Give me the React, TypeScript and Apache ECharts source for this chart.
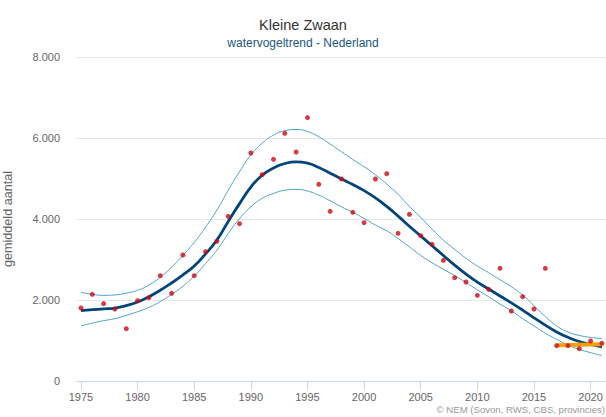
import React, { useEffect, useRef } from "react";
import * as echarts from "echarts";

const years: number[] = [
  1975, 1976, 1977, 1978, 1979, 1980, 1981, 1982, 1983, 1984, 1985, 1986, 1987, 1988, 1989,
  1990, 1991, 1992, 1993, 1994, 1995, 1996, 1997, 1998, 1999, 2000, 2001, 2002, 2003, 2004,
  2005, 2006, 2007, 2008, 2009, 2010, 2011, 2012, 2013, 2014, 2015, 2016, 2017, 2018, 2019,
  2020, 2021,
];

const counts: number[] = [
  1802, 2140, 1910, 1778, 1292, 1983, 2058, 2601, 2165, 3111, 2601, 3193, 3449, 4066, 3885,
  5630, 5095, 5473, 6115, 5654, 6505, 4856, 4189, 4988, 4165, 3909, 4988, 5119, 3646, 4115,
  3588, 3374, 2979, 2551, 2444, 2115, 2263, 2782, 1728, 2082, 1778, 2782, 872, 872, 798,
  988, 931,
];

const trend: number[] = [
  1740, 1760, 1780, 1800, 1860, 1950, 2080, 2240, 2420, 2620, 2840, 3140, 3480, 3940, 4380,
  4790, 5080, 5260, 5370, 5410, 5380, 5270, 5130, 4990, 4850, 4700, 4520, 4310, 4070, 3820,
  3580, 3340, 3100, 2860, 2640, 2440, 2270, 2100, 1930, 1750, 1560, 1380, 1210, 1080, 975,
  905, 840,
];

const upper: number[] = [
  2190, 2140, 2115, 2125, 2170, 2240, 2370, 2560, 2810, 3100, 3420, 3800, 4220, 4710, 5170,
  5580, 5870, 6070, 6180, 6210, 6160, 6030, 5850, 5660, 5470, 5290, 5090, 4860, 4610, 4310,
  4040, 3750, 3480, 3250, 3030, 2840, 2675, 2500, 2330, 2120, 1860, 1590, 1360, 1210, 1125,
  1075, 1050,
];

const lower: number[] = [
  1360, 1430, 1490, 1540, 1620, 1710, 1820, 1960, 2140, 2340, 2590, 2900, 3230, 3640, 4010,
  4300, 4510, 4630, 4710, 4730, 4690, 4590, 4450, 4300, 4165, 4015, 3850, 3710, 3520, 3310,
  3100, 2920, 2760, 2600, 2430, 2250, 2080, 1900, 1730, 1540, 1360, 1180, 1030, 890, 780,
  700, 625,
];

const shortTermYears: number[] = [2017, 2021];
const shortTermValues: number[] = [880, 905];

const xTicks: number[] = [1975, 1980, 1985, 1990, 1995, 2000, 2005, 2010, 2015, 2020];
const yTicks: number[] = [0, 2000, 4000, 6000, 8000];

const FONT = "'Liberation Sans', Arial, Helvetica, sans-serif";

const pairs = (xs: number[], ys: number[]) => xs.map((x, i) => [x, ys[i]]);

const fmtNum = (v: number) => {
  const s = String(Math.round(v));
  return s.replace(/\B(?=(\d{3})+(?!\d))/g, ".");
};

export default function App() {
  const ref = useRef<HTMLDivElement>(null);

  useEffect(() => {
    if (!ref.current) return;
    const chart = echarts.init(ref.current, undefined, { renderer: "svg" });
    chart.setOption({
      animation: false,
      backgroundColor: "#ffffff",
      textStyle: { fontFamily: FONT },
      title: [
        {
          text: "Kleine Zwaan",
          left: "center",
          top: 11,
          textStyle: { fontFamily: FONT, fontSize: 14.5, fontWeight: "normal", color: "#333333", lineHeight: 18 },
        },
        {
          text: "watervogeltrend - Nederland",
          left: "center",
          top: 30,
          textStyle: { fontFamily: FONT, fontSize: 12, fontWeight: "normal", color: "#22587a", lineHeight: 16 },
        },
      ],
      grid: {
        left: 76,
        right: 0,
        top: 57,
        bottom: 36,
        containLabel: false,
        outerBoundsMode: "none",
      },
      xAxis: {
        type: "value",
        min: 1974.56,
        max: 2021.36,
        splitLine: { show: false },
        axisLine: { show: true, lineStyle: { color: "#ccd6eb", width: 1 } },
        axisTick: { show: true, length: 9, lineStyle: { color: "#ccd6eb" }, customValues: xTicks },
        axisLabel: {
          color: "#666666",
          fontSize: 11,
          fontFamily: FONT,
          margin: 10,
          customValues: xTicks,
          formatter: (v: number) => String(v),
        },
      },
      yAxis: {
        type: "value",
        min: 0,
        max: 8000,
        interval: 2000,
        name: "gemiddeld aantal",
        nameLocation: "middle",
        nameGap: 62,
        nameRotate: 90,
        nameTextStyle: { color: "#666666", fontSize: 12.6, fontFamily: FONT },
        axisLine: { show: false },
        axisTick: { show: false },
        splitLine: { show: true, lineStyle: { color: "#e6e6e6", width: 1 } },
        axisLabel: {
          color: "#666666",
          fontSize: 11,
          fontFamily: FONT,
          margin: 16,
          customValues: yTicks,
          formatter: (v: number) => fmtNum(v),
        },
      },
      series: [
        {
          type: "line",
          name: "bovengrens",
          data: pairs(years, upper),
          smooth: true,
          showSymbol: false,
          lineStyle: { color: "#4ba3c9", width: 1 },
          z: 2,
        },
        {
          type: "line",
          name: "ondergrens",
          data: pairs(years, lower),
          smooth: true,
          showSymbol: false,
          lineStyle: { color: "#4ba3c9", width: 1 },
          z: 2,
        },
        {
          type: "line",
          name: "trend",
          data: pairs(years, trend),
          smooth: true,
          showSymbol: false,
          lineStyle: { color: "#00457a", width: 2.8 },
          z: 3,
        },
        {
          type: "line",
          name: "korte termijn",
          data: pairs(shortTermYears, shortTermValues),
          showSymbol: false,
          lineStyle: { color: "#f5a000", width: 4 },
          z: 4,
        },
        {
          type: "scatter",
          name: "geteld",
          data: pairs(years, counts),
          symbolSize: 5,
          itemStyle: { color: "#cc0a14" },
          z: 5,
        },
      ],
      graphic: [
        {
          type: "text",
          right: 1,
          top: 404,
          style: {
            text: "© NEM (Sovon, RWS, CBS, provincies)",
            fill: "#999999",
            fontSize: 9.6,
            fontFamily: FONT,
          },
        },
      ],
    });
    return () => chart.dispose();
  }, []);

  return (
    <div
      ref={ref}
      style={{ position: "absolute", left: 0, top: 0, width: 606, height: 417 }}
    />
  );
}
